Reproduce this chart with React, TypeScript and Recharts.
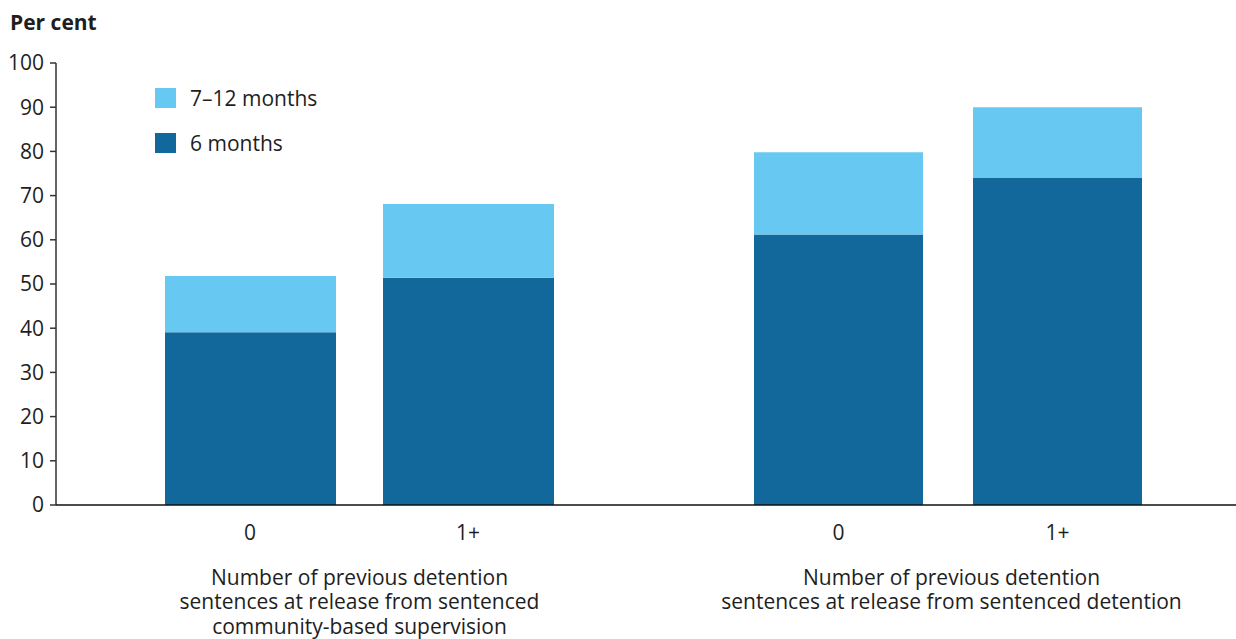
import React from "react";
import { BarChart, Bar, XAxis, YAxis, Legend } from "recharts";

const categories = ["0", "1+"];
const communitySixMonths = [39.1, 51.4];
const communitySevenToTwelve = [12.7, 16.7];
const detentionSixMonths = [61.2, 74.0];
const detentionSevenToTwelve = [18.6, 16.0];
const yTicks = [0, 10, 20, 30, 40, 50, 60, 70, 80, 90, 100];
const communityLabel = [
  "Number of previous detention",
  "sentences at release from sentenced",
  "community-based supervision",
];
const detentionLabel = [
  "Number of previous detention",
  "sentences at release from sentenced detention",
];

const DARK = "#12679b";
const LIGHT = "#67c8f1";
const TEXT = "#1e1e1e";
const FONT = "'Open Sans', 'Noto Sans', sans-serif";
const FS = 21;

const communityData = categories.map((c, i) => ({
  name: c,
  six: communitySixMonths[i],
  later: communitySevenToTwelve[i],
}));
const detentionData = categories.map((c, i) => ({
  name: c,
  six: detentionSixMonths[i],
  later: detentionSevenToTwelve[i],
}));

const groupLabel = (lines: string[], dx: number) => (props: any) => {
  const vb = props.viewBox || {};
  const cx = vb.x + vb.width / 2 + dx;
  return (
    <text textAnchor="middle" fill={TEXT} fontSize={FS} fontFamily={FONT}>
      {lines.map((l, i) => (
        <tspan key={i} x={cx} y={vb.y + 79.5 + i * 24.5}>
          {l}
        </tspan>
      ))}
    </text>
  );
};

const renderLegend = (props: any) => {
  const items = [...(props.payload || [])].reverse();
  return (
    <div style={{ fontFamily: FONT, fontSize: FS, color: TEXT }}>
      {items.map((it: any) => (
        <div
          key={it.value}
          style={{ display: "flex", alignItems: "center", height: 20, marginBottom: 25 }}
        >
          <span style={{ width: 21, height: 20, background: it.color, display: "inline-block" }} />
          <span style={{ marginLeft: 14, lineHeight: "20px" }}>{it.value}</span>
        </div>
      ))}
    </div>
  );
};

const xTick = { fontSize: FS, fill: TEXT, fontFamily: FONT };

export default function App() {
  return (
    <div
      style={{
        position: "fixed",
        left: 0,
        top: 0,
        width: 1236,
        height: 639,
        background: "#fff",
        display: "flex",
        fontFamily: FONT,
      }}
    >
      <div
        style={{
          position: "absolute",
          left: 10,
          top: 12,
          fontSize: FS,
          lineHeight: "21px",
          fontWeight: 700,
          color: TEXT,
          zIndex: 2,
        }}
      >
        Per cent
      </div>
      <BarChart
        width={653}
        height={639}
        data={communityData}
        margin={{ top: 63, right: 0, bottom: 0, left: 0 }}
        barSize={171}
      >
        <YAxis
          width={56}
          domain={[0, 100]}
          ticks={yTicks}
          interval={0}
          tickSize={6}
          tickMargin={6}
          axisLine={{ stroke: "#333", strokeWidth: 1.5 }}
          tickLine={{ stroke: "#333", strokeWidth: 1.5 }}
          tick={{ fontSize: FS, fill: TEXT, fontFamily: FONT }}
        />
        <XAxis
          dataKey="name"
          height={134}
          padding={{ left: 85, right: 76 }}
          tickLine={false}
          tickSize={0}
          tickMargin={20}
          axisLine={{ stroke: "#111", strokeWidth: 1.5 }}
          tick={xTick}
          label={{ content: groupLabel(communityLabel, 5) }}
        />
        <Legend
          layout="vertical"
          align="center"
          verticalAlign="middle"
          wrapperStyle={{ left: 155, top: 88, width: 250, height: 90 }}
          content={renderLegend}
        />
        <Bar dataKey="six" name="6 months" stackId="a" fill={DARK} isAnimationActive={false} />
        <Bar dataKey="later" name="7–12 months" stackId="a" fill={LIGHT} isAnimationActive={false} />
      </BarChart>
      <BarChart
        width={583}
        height={639}
        data={detentionData}
        margin={{ top: 63, right: 0, bottom: 0, left: 0 }}
        barSize={169}
      >
        <YAxis hide width={0} domain={[0, 100]} ticks={yTicks} />
        <XAxis
          dataKey="name"
          height={134}
          padding={{ left: 76, right: 69 }}
          tickLine={false}
          tickSize={0}
          tickMargin={20}
          axisLine={{ stroke: "#111", strokeWidth: 1.5 }}
          tick={xTick}
          label={{ content: groupLabel(detentionLabel, 7) }}
        />
        <Bar dataKey="six" name="6 months" stackId="a" fill={DARK} isAnimationActive={false} />
        <Bar dataKey="later" name="7–12 months" stackId="a" fill={LIGHT} isAnimationActive={false} />
      </BarChart>
    </div>
  );
}
